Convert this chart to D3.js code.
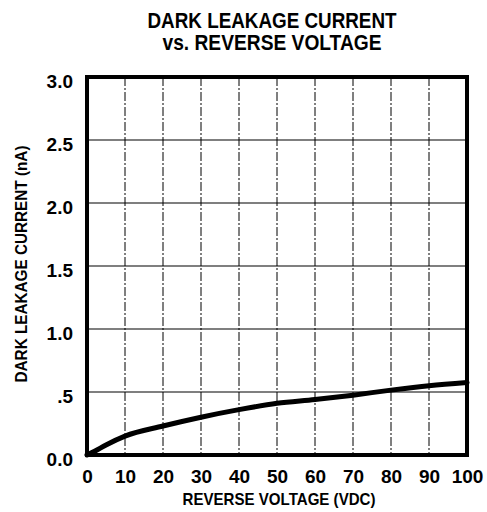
<!DOCTYPE html>
<html>
<head>
<meta charset="utf-8"/>
<style>
body { margin: 0; background: #fff; }
.title, .alabel { font-family: "Liberation Sans", Arial, sans-serif; font-weight: bold; }
.tick text { font-family: "Liberation Sans", Arial, sans-serif; font-weight: bold; font-size: 19px; fill: #000; }
</style>
</head>
<body>
<svg width="487" height="512"></svg>
<script src="https://d3js.org/d3.v7.min.js"></script>
<script>
var voltage = [0, 2, 5, 10, 20, 30, 40, 50, 60, 70, 80, 90, 100];
var current = [0, 0.03, 0.08, 0.15, 0.23, 0.30, 0.36, 0.41, 0.44, 0.475, 0.515, 0.55, 0.575];
var xTicks = [0, 10, 20, 30, 40, 50, 60, 70, 80, 90, 100];
var yTicks = [0, 0.5, 1.0, 1.5, 2.0, 2.5, 3.0];
var yTickLabels = ["0.0", ".5", "1.0", "1.5", "2.0", "2.5", "3.0"];

var svg = d3.select("svg"),
    pLeft = 87, pRight = 467, pTop = 77, pBottom = 455;

var x = d3.scaleLinear().domain([0, 100]).range([pLeft, pRight]);
var y = d3.scaleLinear().domain([0, 3]).range([pBottom, pTop]);

// grid
svg.selectAll(".vgrid")
  .data(xTicks.slice(1, -1))
  .enter().append("line")
    .attr("x1", x).attr("x2", x)
    .attr("y1", pTop).attr("y2", pBottom)
    .attr("stroke", "#000").attr("stroke-width", 1)
    .attr("stroke-dasharray", "9,2,2,2");

svg.selectAll(".hgrid")
  .data(yTicks.slice(1, -1))
  .enter().append("line")
    .attr("x1", pLeft).attr("x2", pRight)
    .attr("y1", y).attr("y2", y)
    .attr("stroke", "#000").attr("stroke-width", 1.2);

// axes (labels only)
var xAxis = svg.append("g")
    .attr("transform", "translate(0," + (pBottom + 8) + ")")
    .call(d3.axisBottom(x).tickValues(xTicks).tickSize(0).tickPadding(6.5));
xAxis.select(".domain").remove();

var yAxis = svg.append("g")
    .attr("transform", "translate(" + (pLeft - 14) + ",0)")
    .call(d3.axisLeft(y).tickValues(yTicks).tickSize(0).tickPadding(0)
      .tickFormat(function(d, i) { return yTickLabels[i]; }));
yAxis.select(".domain").remove();
yAxis.selectAll("text").attr("dy", "0.55em");

// curve
svg.append("path")
  .datum(voltage.map(function(v, i) { return [v, current[i]]; }))
  .attr("fill", "none")
  .attr("stroke", "#000")
  .attr("stroke-width", 5)
  .attr("stroke-linecap", "round")
  .attr("d", d3.line()
    .x(function(d) { return x(d[0]); })
    .y(function(d) { return y(d[1]); })
    .curve(d3.curveMonotoneX));

// frame
svg.append("rect")
  .attr("x", pLeft).attr("y", pTop)
  .attr("width", pRight - pLeft).attr("height", pBottom - pTop)
  .attr("fill", "none").attr("stroke", "#000").attr("stroke-width", 4);

// titles
svg.append("text").attr("class", "title")
  .attr("x", 272).attr("y", 28).attr("text-anchor", "middle")
  .attr("font-size", 22).attr("textLength", 249).attr("lengthAdjust", "spacingAndGlyphs")
  .text("DARK LEAKAGE CURRENT");
svg.append("text").attr("class", "title")
  .attr("x", 272).attr("y", 50).attr("text-anchor", "middle")
  .attr("font-size", 22).attr("textLength", 219).attr("lengthAdjust", "spacingAndGlyphs")
  .text("vs. REVERSE VOLTAGE");

svg.append("text").attr("class", "alabel")
  .attr("x", 279).attr("y", 505).attr("text-anchor", "middle")
  .attr("font-size", 17).attr("textLength", 193).attr("lengthAdjust", "spacingAndGlyphs")
  .text("REVERSE VOLTAGE (VDC)");

svg.append("text").attr("class", "alabel")
  .attr("transform", "translate(27,264) rotate(-90)")
  .attr("text-anchor", "middle")
  .attr("font-size", 17).attr("textLength", 237).attr("lengthAdjust", "spacingAndGlyphs")
  .text("DARK LEAKAGE CURRENT (nA)");
</script>
</body>
</html>
